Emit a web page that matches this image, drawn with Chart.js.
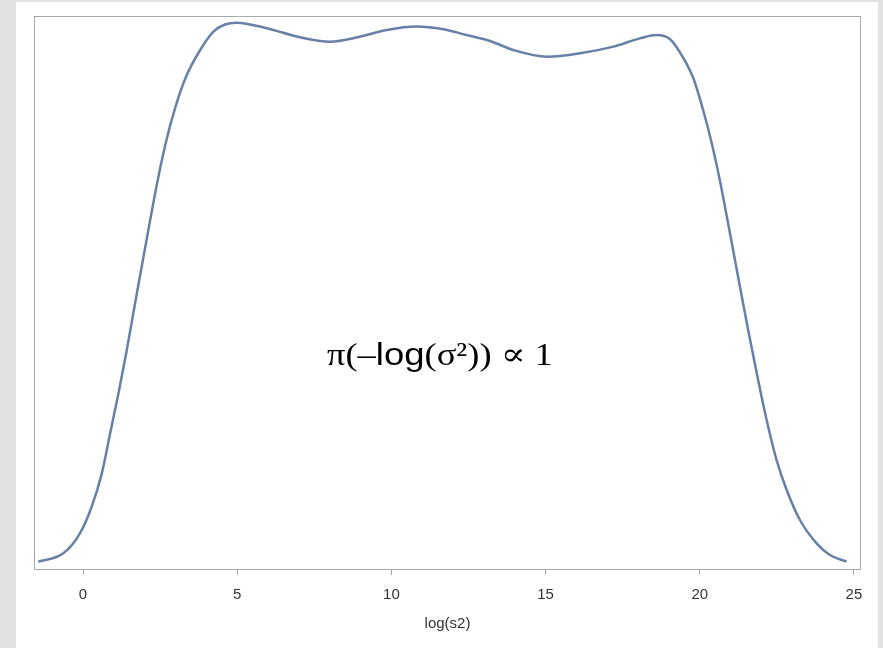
<!DOCTYPE html>
<html>
<head>
<meta charset="utf-8">
<script src="https://cdn.jsdelivr.net/npm/chart.js@4/dist/chart.umd.min.js"></script>
<style>
  html, body { margin:0; padding:0; }
  body { width:883px; height:648px; overflow:hidden; background:#e1e1e1; position:relative; }
  #panel { position:absolute; left:16px; top:2px; width:862px; height:646px; background:#ffffff; }
  #c { position:absolute; left:0; top:0; }
  #note { position:absolute; left:327px; top:338px; white-space:nowrap; font-size:32px; line-height:1; color:#000; transform:scaleX(1.14); transform-origin:0 0; }
  .serif { font-family:"Liberation Serif","DejaVu Serif",serif; }
  .sans { font-family:"Liberation Sans","DejaVu Sans",sans-serif; }
</style>
</head>
<body>
<div id="panel"></div>
<canvas id="c" width="883" height="648"></canvas>
<div id="note"><span class="serif">π(–</span><span class="sans">log</span><span class="serif">(σ²)) ∝ 1</span></div>
<script>
// Density curve
const logS2 = [-1.45,-0.64,-0.10,0.28,0.61,0.88,1.15,1.40,1.63,1.80,2.08,2.38,2.68,3.00,3.34,3.79,4.23,4.60,4.98,5.96,7.04,8.01,8.98,9.85,10.82,11.68,12.44,13.20,13.95,15.04,16.12,17.20,18.06,18.60,19.03,19.47,19.79,20.11,20.39,20.65,20.92,21.30,21.57,21.85,22.17,22.49,22.82,23.25,23.79,24.22,24.76];
const density = [0.00066,0.00142,0.00323,0.00563,0.00865,0.01227,0.01589,0.01950,0.02312,0.02577,0.03005,0.03457,0.03849,0.04180,0.04451,0.04688,0.04858,0.04923,0.04940,0.04889,0.04807,0.04768,0.04813,0.04873,0.04904,0.04880,0.04828,0.04774,0.04693,0.04632,0.04663,0.04723,0.04798,0.04828,0.04792,0.04620,0.04439,0.04150,0.03849,0.03517,0.03126,0.02559,0.02161,0.01769,0.01347,0.00986,0.00714,0.00443,0.00232,0.00127,0.00066];
const xTicks = [0,5,10,15,20,25];
const xTitle = 'log(s2)';

const frameColor = '#a3a9ad';
const framePlugin = {
  id: 'frame',
  beforeDatasetsDraw(chart) {
    const a = chart.chartArea, ctx = chart.ctx;
    ctx.save();
    ctx.strokeStyle = frameColor;
    ctx.lineWidth = 1;
    ctx.strokeRect(Math.round(a.left) + 0.5, Math.round(a.top) + 0.5, Math.round(a.right - a.left) - 1, Math.round(a.bottom - a.top));
    ctx.restore();
  }
};

new Chart(document.getElementById('c'), {
  type: 'line',
  data: {
    datasets: [{
      data: logS2.map((x, i) => ({ x: x, y: density[i] })),
      borderColor: '#6780a7',
      borderWidth: 2.5,
      pointRadius: 0,
      fill: false,
      cubicInterpolationMode: 'monotone'
    }]
  },
  options: {
    responsive: false,
    animation: false,
    events: [],
    layout: { padding: { left: 34, top: 16, right: 22, bottom: 13 } },
    plugins: { legend: { display: false }, tooltip: { enabled: false } },
    scales: {
      x: {
        type: 'linear',
        min: -1.59,
        max: 25.23,
        afterBuildTicks: s => { s.ticks = xTicks.map(v => ({ value: v })); },
        ticks: { color: '#333333', font: { family: 'Liberation Sans', size: 15 }, padding: 11, maxRotation: 0, autoSkip: false },
        grid: { display: true, drawOnChartArea: false, drawTicks: true, tickLength: 6, color: frameColor, lineWidth: 1 },
        border: { display: false },
        title: { display: true, text: xTitle, color: '#333333', font: { family: 'Liberation Sans', size: 15 }, padding: { top: 0, bottom: 2 } }
      },
      y: { display: false, min: 0, max: 0.05 }
    }
  },
  plugins: [framePlugin]
});
</script>
</body>
</html>
